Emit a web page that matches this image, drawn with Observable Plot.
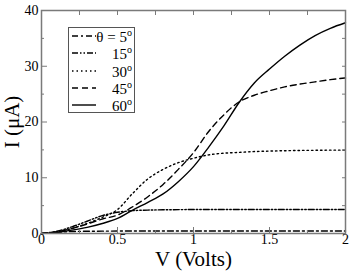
<!DOCTYPE html>
<html><head><meta charset="utf-8">
<script src="https://cdn.jsdelivr.net/npm/d3@7"></script>
<script src="https://cdn.jsdelivr.net/npm/@observablehq/plot@0.6"></script>
<style>
html,body{margin:0;padding:0;background:#fff;}
#wrap{position:relative;width:354px;height:274px;font-family:"Liberation Serif","Times New Roman",Times,"DejaVu Serif",serif;}
#legend{position:absolute;left:68px;top:27px;width:67px;height:86px;border:1px solid #555;background:#fff;box-sizing:border-box;}
.row{position:absolute;left:0;width:66px;height:18px;}
.row svg{position:absolute;left:2px;top:0;}
.row span{position:absolute;right:3px;top:0;font-size:15px;line-height:18px;color:#000;white-space:nowrap;}
.row sup{font-size:10px;vertical-align:6px;line-height:0;}
</style></head>
<body><div id="wrap"><div id="chart"></div><div id="legend"></div></div>
<script>
const V = [0,0.1,0.2,0.3,0.4,0.5,0.6,0.7,0.8,0.9,1.0,1.1,1.2,1.3,1.4,1.5,1.6,1.7,1.8,1.9,2.0];
const I5  = [0,0.2,0.35,0.4,0.42,0.44,0.45,0.45,0.45,0.45,0.45,0.45,0.45,0.45,0.45,0.45,0.45,0.45,0.45,0.45,0.45];
const I15 = [0,0.4,1.2,2.2,3.2,3.8,4.1,4.2,4.25,4.28,4.3,4.3,4.3,4.3,4.3,4.3,4.3,4.3,4.3,4.3,4.3];
const I30 = [0,0.3,0.9,1.8,2.9,4.3,7.2,9.8,11.5,12.7,13.5,14.1,14.4,14.55,14.7,14.78,14.85,14.9,14.92,14.95,14.95];
const I45 = [0,0.3,0.9,1.7,2.6,3.3,4.8,6.6,8.8,11.5,14.5,18.3,21.3,23.6,24.8,25.6,26.3,26.8,27.2,27.6,27.9];
const I60 = [0,0.2,0.6,1.1,1.8,2.7,4.2,5.6,7.1,9.3,12.0,15.5,19.3,23.5,27.0,29.5,31.8,33.8,35.5,36.8,37.8];
const series = [
  {label:"θ = 5", values:I5, dash:"6,3,2,3"},
  {label:"15", values:I15, dash:"6,2,1.5,2,1.5,2"},
  {label:"30", values:I30, dash:"1.5,3"},
  {label:"45", values:I45, dash:"6,4"},
  {label:"60", values:I60, dash:null}
];
const xTicks = [0,0.5,1,1.5,2];
const xMinor = [0.25,0.75,1.25,1.75];
const yTicks = [0,10,20,30,40];
const yMinor = [5,15,25,35];
const axisColor = "#7a7a7a";
const serif = "'Liberation Serif','Times New Roman',Times,'DejaVu Serif',serif";
const blank = () => "";

const lines = series.map(s => Plot.line(V.map((v,i)=>({V:v,I:s.values[i]})), {
  x:"V", y:"I", stroke:"#000", strokeWidth:1.4, strokeDasharray:s.dash, curve:"monotone-x"
}));

const chart = Plot.plot({
  width:354, height:274,
  marginLeft:41, marginRight:9, marginTop:10, marginBottom:41,
  style:{fontFamily:serif, background:"#fff", color:"#000"},
  x:{domain:[0,2]},
  y:{domain:[0,40]},
  marks:[
    ...lines,
    Plot.axisX(xTicks,{anchor:"bottom", tickSize:-6, tickPadding:7, stroke:axisColor, fill:"#000", fontSize:14, tickFormat:d=>String(d), label:null}),
    Plot.axisX(xMinor,{anchor:"bottom", tickSize:-3, tickFormat:blank, stroke:axisColor, label:null}),
    Plot.axisX([...xTicks,...xMinor],{anchor:"top", tickSize:-4, tickFormat:blank, stroke:axisColor, label:null}),
    Plot.axisY(yTicks,{anchor:"left", tickSize:-6, tickPadding:9, stroke:axisColor, fill:"#000", fontSize:14, tickFormat:d=>String(d), label:null}),
    Plot.axisY(yMinor,{anchor:"left", tickSize:-3, tickFormat:blank, stroke:axisColor, label:null}),
    Plot.axisY([...yTicks,...yMinor],{anchor:"right", tickSize:-4, tickFormat:blank, stroke:axisColor, label:null}),
    Plot.frame({stroke:axisColor, strokeWidth:1.5}),
    Plot.text(["V (Volts)"],{frameAnchor:"bottom", dy:26, lineAnchor:"middle", textAnchor:"middle", fontSize:21, fill:"#000", fontFamily:serif}),
    Plot.text(["I (μA)"],{frameAnchor:"left", dx:-29, rotate:-90, lineAnchor:"middle", textAnchor:"middle", fontSize:21, fill:"#000", fontFamily:serif})
  ]
});
document.getElementById("chart").appendChild(chart);

const legend = document.getElementById("legend");
series.forEach((s,i) => {
  const row = document.createElement("div");
  row.className = "row";
  row.style.top = (0 + i*17.3) + "px";
  row.innerHTML = `<svg width="26" height="18"><line x1="1" x2="25" y1="8" y2="8" stroke="#000" stroke-width="1.4" ${s.dash?`stroke-dasharray="${s.dash}"`:""}/></svg><span>${s.label}<sup>o</sup></span>`;
  legend.appendChild(row);
});
</script>
</body></html>
